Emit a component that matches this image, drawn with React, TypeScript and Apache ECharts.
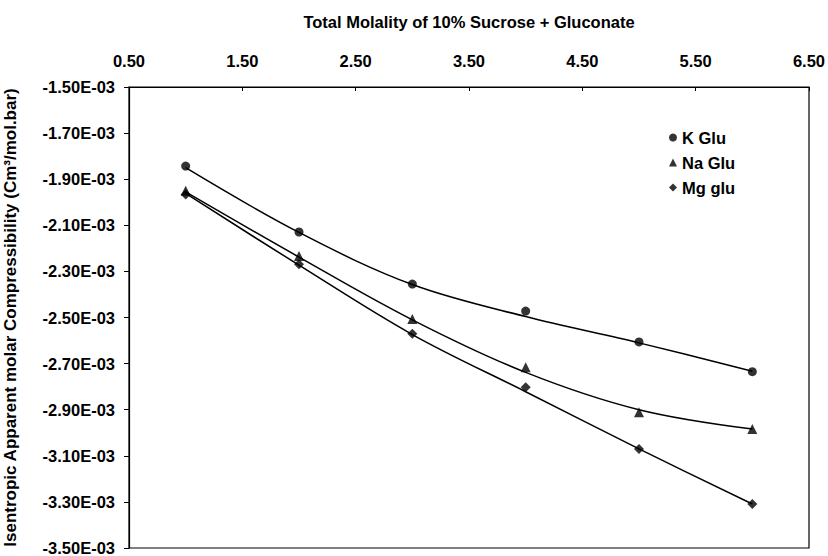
import React, { useEffect, useRef } from "react";
import * as echarts from "echarts";

// Total molality (mol/kg) of 10% sucrose + gluconate solutions
const molality = [1, 2, 3, 4, 5, 6];

// Measured isentropic apparent molar compressibility (cm3/mol.bar)
const kGlu = [-1.843e-3, -2.129e-3, -2.355e-3, -2.472e-3, -2.606e-3, -2.735e-3];
const naGlu = [-1.95e-3, -2.233e-3, -2.507e-3, -2.716e-3, -2.911e-3, -2.984e-3];
const mgGlu = [-1.966e-3, -2.269e-3, -2.57e-3, -2.803e-3, -3.07e-3, -3.309e-3];

// Fitted trendline values at the same molalities
const kTrend = [-1.85e-3, -2.131e-3, -2.357e-3, -2.496e-3, -2.61e-3, -2.733e-3];
const naTrend = [-1.955e-3, -2.238e-3, -2.51e-3, -2.738e-3, -2.9e-3, -2.984e-3];
const mgTrend = [-1.962e-3, -2.273e-3, -2.574e-3, -2.822e-3, -3.07e-3, -3.309e-3];

// Axis tick positions
const xTicks = [0.5, 1.5, 2.5, 3.5, 4.5, 5.5, 6.5];
const yTicks = [-3.5e-3, -3.3e-3, -3.1e-3, -2.9e-3, -2.7e-3, -2.5e-3, -2.3e-3, -2.1e-3, -1.9e-3, -1.7e-3, -1.5e-3];

const FONT = '"Liberation Sans", Arial, Helvetica, sans-serif';
const FS = 16.5;

const pairs = (ys: number[]) => molality.map((x, i) => [x, ys[i]]);

export default function App() {
  const ref = useRef<HTMLDivElement>(null);

  useEffect(() => {
    document.body.style.margin = "0";
    if (!ref.current) return;
    const chart = echarts.init(ref.current, undefined, { renderer: "svg" });

    const trendLine = (name: string, ys: number[]) => ({
      name,
      type: "line",
      data: pairs(ys),
      smooth: 0.35,
      showSymbol: false,
      silent: true,
      lineStyle: { color: "#000", width: 1.5 },
      z: 2,
    });
    const points = (name: string, ys: number[], symbol: string, size: number) => ({
      name,
      type: "scatter",
      data: pairs(ys),
      symbol,
      symbolSize: size,
      itemStyle: { color: "#000" },
      z: 3,
    });

    const text = { fontFamily: FONT, fontSize: FS, fontWeight: "bold", color: "#000" };

    chart.setOption({
      animation: false,
      backgroundColor: "#fff",
      textStyle: { fontFamily: FONT },
      grid: {
        left: 129,
        top: 87,
        right: 19,
        bottom: 8,
        containLabel: false,
        outerBoundsMode: "none",
        show: true,
        borderColor: "#000",
        borderWidth: 1.2,
      },
      legend: {
        data: [
          { name: "K Glu", icon: "circle" },
          { name: "Na Glu", icon: "triangle" },
          { name: "Mg glu", icon: "diamond" },
        ],
        orient: "vertical",
        left: 664,
        top: 124,
        itemWidth: 8,
        itemHeight: 8,
        itemGap: 8,
        selectedMode: false,
        textStyle: text,
      },
      xAxis: {
        type: "value",
        position: "top",
        min: 0.5,
        max: 6.5,
        name: "Total Molality of 10% Sucrose + Gluconate",
        nameLocation: "middle",
        nameGap: 57,
        nameTextStyle: text,
        axisLine: { show: true, lineStyle: { color: "#000", width: 1.2 } },
        axisTick: { show: true, inside: true, length: 4, customValues: xTicks, lineStyle: { color: "#000" } },
        axisLabel: {
          customValues: xTicks,
          formatter: (v: number) => v.toFixed(2),
          margin: 18,
          ...text,
        },
        splitLine: { show: false },
      },
      yAxis: {
        type: "value",
        min: -3.5e-3,
        max: -1.5e-3,
        name: "Isentropic Apparent molar Compressibility (Cm³/mol.bar)",
        nameLocation: "middle",
        nameGap: 110,
        nameRotate: 90,
        nameTextStyle: { ...text, fontSize: 17 },
        axisLine: { show: true, lineStyle: { color: "#000", width: 1.2 } },
        axisTick: { show: true, inside: false, length: 5, customValues: yTicks, lineStyle: { color: "#000" } },
        axisLabel: {
          customValues: yTicks,
          formatter: (v: number) => (v * 1000).toFixed(2) + "E-03",
          margin: 14,
          ...text,
        },
        splitLine: { show: false },
      },
      series: [
        trendLine("K Glu trend", kTrend),
        trendLine("Na Glu trend", naTrend),
        trendLine("Mg glu trend", mgTrend),
        points("K Glu", kGlu, "circle", 9),
        points("Na Glu", naGlu, "triangle", 10),
        points("Mg glu", mgGlu, "diamond", 10),
      ],
    });

    return () => chart.dispose();
  }, []);

  return (
    <div
      ref={ref}
      style={{ position: "absolute", left: 0, top: 0, width: 828, height: 556 }}
    />
  );
}
